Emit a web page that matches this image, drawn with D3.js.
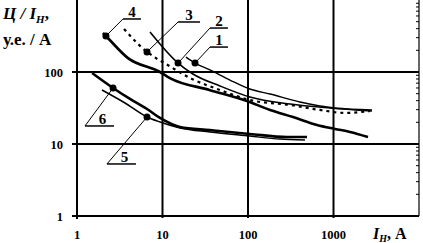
<!DOCTYPE html>
<html><head><meta charset="utf-8">
<script src="https://cdn.jsdelivr.net/npm/d3@7"></script>
<style>body{margin:0;background:#fff}svg{display:block}</style>
</head><body>
<svg id="c" width="423" height="243"></svg>
<script>
// ---- data ----
const xTicks = [1, 10, 100, 1000];
const yTicks = [1, 10, 100];
const xTickLabels = ["1", "10", "100", "1000"];
const yTickLabels = ["1", "10", "100"];

const curve1 = [[18.8,161],[24,133],[35.9,107],[61.5,77.4],[105,58],[181,49.5],[405,38.3],[1041,31.6],[2818,29.7]];
const curve2 = [[7.14,359],[15.2,133],[22.7,93.8],[47.1,63.9],[105,45],[310,35.9],[910,31.6],[2818,28.7]];
const curve3 = [[3.55,396],[5.03,253],[6.59,190],[8.4,156],[11,129],[21,82.5],[47.1,56.2],[105,40.8],[310,34.8],[695,29.7],[1364,27],[2672,28.7]];
const curve4 = [[2.01,348],[2.18,316],[3.95,156],[9.35,100],[12.2,82.5],[36,56],[97,39.5],[181,29.7],[336,23.7],[641,18.4],[1041,16.2],[1560,14.7],[2533,12.5]];
const curve5 = [[1.96,56.2],[3.64,37.1],[6.59,23.7],[9.35,20.2],[16,16.7],[35.9,14.7],[105,12.9],[237,11.7],[464,11.4]];
const curve6 = [[1.5,96.8],[2.64,60],[4.17,42.2],[6.59,30.6],[9.35,23],[16,17.2],[35.9,15.6],[105,13.8],[286,12.5],[490,12.5]];

const seriesNames = ["1","2","3","4","5","6"];
const markers = [[24,133],[15.2,133],[6.59,190],[2.18,316],[6.59,23.7],[2.64,60]];
// label anchor (left end of the underline) in data units
const labelAnchors = [[35.9,222],[35.9,408],[15.2,495],[3.45,545],[2.24,5.28],[1.24,17.8]];

// ---- drawing ----
const svg = d3.select("#c");
const x = d3.scaleLog().domain([1, 10000]).range([77, 419]);
const y = d3.scaleLog().domain([1, 1000]).range([216, 0]);
const serif = "'Liberation Serif','DejaVu Serif',serif";

// grid
svg.append("g").selectAll("line").data([10,100,1000]).join("line")
  .attr("x1", d=>x(d)).attr("x2", d=>x(d)).attr("y1", y(1)+2).attr("y2", 0)
  .attr("stroke", "#000").attr("stroke-width", 2);
svg.append("g").selectAll("line").data([10,100]).join("line")
  .attr("x1", x(1)-5).attr("x2", x(10000)).attr("y1", d=>y(d)).attr("y2", d=>y(d))
  .attr("stroke", "#000").attr("stroke-width", 2);
// axes
svg.append("line").attr("x1", x(1)).attr("x2", x(1)).attr("y1", 0).attr("y2", y(1)+3)
  .attr("stroke", "#000").attr("stroke-width", 2);
svg.append("line").attr("x1", x(1)-5).attr("x2", x(10000)).attr("y1", y(1)).attr("y2", y(1))
  .attr("stroke", "#000").attr("stroke-width", 2);
// right border with minor ticks
svg.append("line").attr("x1", x(10000)).attr("x2", x(10000)).attr("y1", 0).attr("y2", y(1))
  .attr("stroke", "#000").attr("stroke-width", 1.2);
const minor = [];
[1,10,100].forEach(b=>{for(let k=2;k<=9;k++) minor.push(b*k);});
svg.append("g").selectAll("line").data(minor).join("line")
  .attr("x1", x(10000)-3).attr("x2", x(10000)).attr("y1", d=>y(d)).attr("y2", d=>y(d))
  .attr("stroke", "#000").attr("stroke-width", 1);

// tick labels
svg.append("g").selectAll("text").data(xTicks).join("text")
  .attr("x", d=>x(d)).attr("y", 239).attr("text-anchor", "middle")
  .attr("font-family", serif).attr("font-weight", "bold").attr("font-size", 12.5)
  .text((d,i)=>xTickLabels[i]);
svg.append("g").selectAll("text").data(yTicks).join("text")
  .attr("x", 63).attr("y", d=>y(d)+4.5).attr("text-anchor", "end")
  .attr("font-family", serif).attr("font-weight", "bold").attr("font-size", 12.5)
  .text((d,i)=>yTickLabels[i]);

// axis titles
const yt = svg.append("text").attr("x", 3).attr("y", 19)
  .attr("font-family", serif).attr("font-weight", "bold").attr("font-size", 17);
yt.append("tspan").attr("font-style", "italic").text("Ц / I");
yt.append("tspan").attr("font-style", "italic").attr("font-size", 11).attr("dy", 4).text("Н");
yt.append("tspan").attr("dy", -4).text(",");
svg.append("text").attr("x", 3).attr("y", 45)
  .attr("font-family", serif).attr("font-weight", "bold").attr("font-size", 17)
  .text("у.е. / А");
const xt = svg.append("text").attr("x", 373).attr("y", 239)
  .attr("font-family", serif).attr("font-weight", "bold").attr("font-size", 16);
xt.append("tspan").attr("font-style", "italic").text("I");
xt.append("tspan").attr("font-style", "italic").attr("font-size", 10).attr("dy", 3).text("Н");
xt.append("tspan").attr("dy", -3).text(", A");

// curves
const line = d3.line().x(d=>x(d[0])).y(d=>y(d[1])).curve(d3.curveMonotoneX);
const curves = [curve1, curve2, curve3, curve4, curve5, curve6];
const widths = [1.4, 1.6, 2.2, 2.6, 1.5, 2.6];
const dashes = [null, null, "3,4", null, null, null];
svg.append("g").selectAll("path").data(curves).join("path")
  .attr("d", line).attr("fill", "none").attr("stroke", "#000")
  .attr("stroke-width", (d,i)=>widths[i])
  .attr("stroke-dasharray", (d,i)=>dashes[i])
  .attr("stroke-linejoin", "round");

// markers, leaders, labels
const ann = svg.append("g");
markers.forEach((m,i)=>{
  const a = labelAnchors[i];
  const ax = x(a[0]), ay = y(a[1]);
  const ulen = i >= 4 ? 29 : (i === 2 ? 22 : 18);
  ann.append("line").attr("x1", x(m[0])).attr("y1", y(m[1])).attr("x2", ax).attr("y2", ay)
    .attr("stroke", "#000").attr("stroke-width", 1);
  ann.append("line").attr("x1", ax).attr("y1", ay).attr("x2", ax+ulen).attr("y2", ay)
    .attr("stroke", "#000").attr("stroke-width", 1.5);
  ann.append("circle").attr("cx", x(m[0])).attr("cy", y(m[1])).attr("r", 3.5).attr("fill", "#000");
  ann.append("text").attr("x", ax + ulen*0.5 + (i>=4?3:0)).attr("y", ay-2).attr("text-anchor", "middle")
    .attr("font-family", serif).attr("font-weight", "bold").attr("font-size", 15)
    .text(seriesNames[i]);
});
</script>
</body></html>
